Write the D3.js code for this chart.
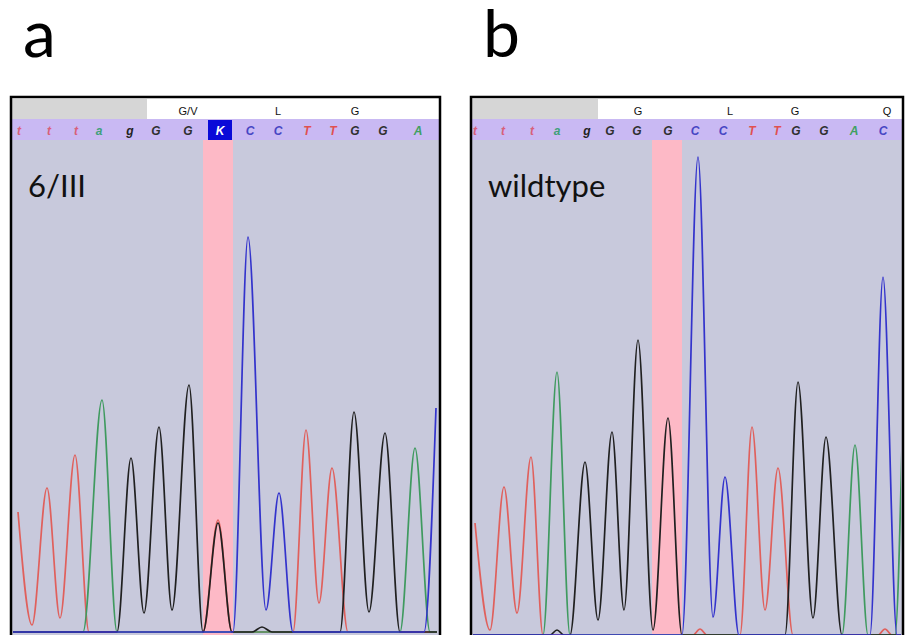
<!DOCTYPE html>
<html>
<head>
<meta charset="utf-8">
<script src="https://cdn.jsdelivr.net/npm/d3@7"></script>
<style>
body { margin: 0; background: #fff; }
svg text { font-family: "Liberation Sans", Arial, sans-serif; }
</style>
</head>
<body>
<svg id="chart" width="906" height="635"></svg>
<script>
// ---- data (x = scan, y = signal) ----
var aBases = ["t","t","t","a","g","G","G","K","C","C","T","T","G","G","A"];
var aBasePos = [16, 76, 130, 176, 238, 290, 354, 418, 478, 534, 592, 644, 688, 744, 814];
var aAmino = ["G/V", "L", "G"];
var aAminoPos = [354, 534, 688];
var aHighlight = [384, 444];

var aRed = [[14,240],[42,14],[72,288],[98,28],[128,354],[156,0],[384,0],[414,224],[442,0],
            [564,0],[590,404],[616,58],[642,328],[674,0],[852,0]];
var aGreen = [[4,0],[144,0],[182,464],[212,0],[778,0],[808,368],[838,0],[852,0]];
var aBlack = [[4,0],[212,0],[240,348],[266,38],[296,410],[322,44],[356,494],[384,0],[414,218],[442,0],
              [482,0],[502,10],[522,0],[658,0],[686,440],[716,40],[748,398],[778,0],[852,0]];
var aBlue = [[4,0],[444,0],[474,790],[510,44],[536,278],[564,0],[826,0],[850,448]];

var bBases = ["t","t","t","a","g","G","G","G","C","C","T","T","G","G","A","C"];
var bBasePos = [8, 64, 122, 172, 232, 278, 332, 394, 448, 504, 562, 612, 650, 706, 766, 824];
var bAmino = ["G", "L", "G", "Q"];
var bAminoPos = [334, 518, 648, 832];
var bHighlight = [362, 422];

var bRed = [[8,224],[38,10],[66,296],[92,44],[120,356],[144,0],[444,0],[458,12],[472,0],
            [538,0],[562,416],[588,50],[614,334],[644,0],[814,0],[828,12],[842,0],[862,0]];
var bGreen = [[0,0],[144,0],[172,526],[198,0],[742,0],[768,380],[794,0],[848,0],[862,380]];
var bBlack = [[0,0],[158,0],[172,10],[186,0],[198,0],[228,346],[254,30],[282,406],[306,50],[334,590],
              [364,10],[394,434],[422,0],[628,0],[654,506],[684,34],[710,396],[742,0],[862,0]];
var bBlue = [[0,0],[422,0],[454,956],[484,36],[508,316],[536,0],[798,0],[824,716],[852,0],[862,0]];

var panelLetters = ["a", "b"];
var sampleNames = ["6/III", "wildtype"];

// colours
var traceColors = { red: "#e0605c", green: "#3f9a5f", black: "#202020", blue: "#3333cc" };
var baseColors = { t: "#d8607a", a: "#3fa07a", g: "#222", c: "#4848c8",
                   T: "#e05050", A: "#3fa060", G: "#303030", C: "#4646c4", K: "#fff" };

var panels = [
  { left: 11, right: 440, grayEnd: 147, baseline: 632, maxScan: 858,
    bases: aBases, basePos: aBasePos, amino: aAmino, aminoPos: aAminoPos, hl: aHighlight,
    traces: [["red", aRed], ["green", aGreen], ["black", aBlack], ["blue", aBlue]], callBox: 7 },
  { left: 471, right: 903, grayEnd: 598, baseline: 635, maxScan: 864,
    bases: bBases, basePos: bBasePos, amino: bAmino, aminoPos: bAminoPos, hl: bHighlight,
    traces: [["red", bRed], ["green", bGreen], ["black", bBlack], ["blue", bBlue]], callBox: -1 }
];

var svg = d3.select("#chart");
var frameTop = 97, aaTop = 99, baseTop = 119, plotTop = 140;

panels.forEach(function (p, i) {
  var g = svg.append("g");
  var x = d3.scaleLinear().domain([0, p.maxScan]).range([p.left, p.right]);
  var y = d3.scaleLinear().domain([0, 1000]).range([p.baseline, p.baseline - 500]);

  // panel letter
  svg.append("text")
    .attr("x", p.left + 12).attr("y", 57)
    .style("font-family", "Lato, 'Open Sans', sans-serif")
    .style("font-size", "66px")
    .text(panelLetters[i]);

  // header rows
  g.append("rect").attr("x", p.left).attr("y", aaTop).attr("width", p.right - p.left).attr("height", baseTop - aaTop).attr("fill", "#fff");
  g.append("rect").attr("x", p.left).attr("y", aaTop).attr("width", p.grayEnd - p.left).attr("height", baseTop - aaTop).attr("fill", "#d6d6d6");
  g.append("rect").attr("x", p.left).attr("y", baseTop).attr("width", p.right - p.left).attr("height", plotTop - baseTop).attr("fill", "#c9b9f3");
  g.append("rect").attr("x", p.left).attr("y", plotTop).attr("width", p.right - p.left).attr("height", 640 - plotTop).attr("fill", "#c8c9dc");

  // highlighted position
  g.append("rect")
    .attr("x", x(p.hl[0])).attr("y", plotTop)
    .attr("width", x(p.hl[1]) - x(p.hl[0])).attr("height", 640 - plotTop)
    .attr("fill", "#fdb9c6");

  // amino acids
  g.selectAll("text.aa").data(p.amino).enter().append("text")
    .attr("class", "aa")
    .attr("x", function (d, j) { return x(p.aminoPos[j]); })
    .attr("y", 115)
    .attr("text-anchor", "middle")
    .style("font-size", "11px")
    .attr("fill", "#111")
    .text(function (d) { return d; });

  // ambiguous call box
  if (p.callBox >= 0) {
    var cx = x(p.basePos[p.callBox]);
    g.append("rect").attr("x", cx - 12).attr("y", baseTop + 1).attr("width", 24).attr("height", plotTop - baseTop - 1).attr("fill", "#0a0ad8");
  }

  // base calls
  g.selectAll("text.base").data(p.bases).enter().append("text")
    .attr("class", "base")
    .attr("x", function (d, j) { return x(p.basePos[j]); })
    .attr("y", 135)
    .attr("text-anchor", "middle")
    .style("font-size", "12px")
    .style("font-weight", "bold")
    .style("font-style", "italic")
    .attr("fill", function (d) { return baseColors[d]; })
    .text(function (d) { return d; });

  // sample label
  g.append("text")
    .attr("x", p.left + 17).attr("y", 197)
    .style("font-family", "Lato, 'Open Sans', sans-serif")
    .style("font-size", "31px")
    .attr("fill", "#111")
    .text(sampleNames[i]);

  // traces
  var clipId = "clip" + i;
  svg.append("clipPath").attr("id", clipId).append("rect")
    .attr("x", p.left + 2).attr("y", plotTop).attr("width", p.right - p.left - 4).attr("height", 640 - plotTop);

  var line = d3.line()
    .x(function (d) { return x(d[0]); })
    .y(function (d) { return y(d[1]); })
    .curve(d3.curveMonotoneX);

  var tg = g.append("g").attr("clip-path", "url(#" + clipId + ")");
  p.traces.forEach(function (t) {
    tg.append("path")
      .attr("d", line(t[1]))
      .attr("fill", "none")
      .attr("stroke", traceColors[t[0]])
      .attr("stroke-width", 1.7);
  });

  // frame
  g.append("rect")
    .attr("x", p.left).attr("y", frameTop)
    .attr("width", p.right - p.left).attr("height", 600)
    .attr("fill", "none").attr("stroke", "#000").attr("stroke-width", 2.5);
});
</script>
</body>
</html>
